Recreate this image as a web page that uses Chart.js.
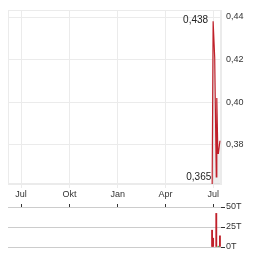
<!DOCTYPE html>
<html><head><meta charset="utf-8">
<script src="https://cdn.jsdelivr.net/npm/chart.js@4/dist/chart.umd.min.js"></script>
<style>
html,body{margin:0;padding:0;background:#fff;overflow:hidden}
#wrap{position:relative;width:264px;height:255px}
#c1{position:absolute;left:0;top:0}
#c2{position:absolute;left:0;top:200px}
</style></head><body>
<div id="wrap"><canvas id="c1" width="264" height="200"></canvas><canvas id="c2" width="264" height="55"></canvas></div>
<script>
// x values are days since 1 Jul 2023
const monthLabels = ['Jul','Okt','Jan','Apr','Jul'];
const monthDays = [0,92,184,275,366];
const priceDays = [364,366,369,372,373,375,376,379];
const prices = [0.355,0.438,0.421,0.365,0.402,0.376,0.376,0.382];
const priceTicks = [0.38,0.40,0.42,0.44];
const volumeDays = [364,366,372,376,379];
const volumes = [21000,11000,42000,1000,14000];
const volumeDir = ['down','down','down','up','down'];
const volumeTicks = [0,25000,50000];

const xMin = -25, xMax = 381;
Chart.defaults.font.family = "'Liberation Sans', Arial, sans-serif";
Chart.defaults.animation = false;

const frame = {id:'frame', beforeDatasetsDraw(c){const a=c.chartArea,ctx=c.ctx;ctx.save();ctx.strokeStyle='#ebebeb';ctx.lineWidth=1;ctx.strokeRect(Math.round(a.left)+0.5,Math.round(a.top)+0.5,Math.round(a.right-a.left)-1,Math.round(a.bottom-a.top)-1);ctx.restore();}};
const extremes = {id:'extremes', afterDatasetsDraw(c){
  const meta=c.getDatasetMeta(0), ctx=c.ctx;
  // first point is the previous close reference, extremes are over the session data
  let hi=1, lo=1;
  for(let i=1;i<prices.length;i++){ if(prices[i]>prices[hi]) hi=i; if(prices[i]<prices[lo]) lo=i; }
  ctx.save(); ctx.font="10px 'Liberation Sans', Arial, sans-serif"; ctx.fillStyle='#222'; ctx.textAlign='right'; ctx.textBaseline='middle';
  const ph=meta.data[hi], pl=meta.data[lo];
  ctx.fillText(prices[hi].toFixed(3).replace('.',','), ph.x-5, ph.y-1);
  ctx.fillText(prices[lo].toFixed(3).replace('.',','), pl.x-5, pl.y);
  ctx.restore();
}};

new Chart(document.getElementById('c1'), {
  type:'line',
  data:{datasets:[{data:priceDays.map((d,i)=>({x:d,y:prices[i]})), borderColor:'#c0202a', borderWidth:1.2, pointRadius:0, fill:'start', backgroundColor:'rgba(200,200,200,0.3)', tension:0}]},
  options:{responsive:false, animation:false, events:[],
    layout:{padding:{left:8,top:7,right:0,bottom:0}},
    plugins:{legend:{display:false}, tooltip:{enabled:false}},
    scales:{
      x:{type:'linear', min:xMin, max:xMax, offset:false,
        afterBuildTicks:s=>{s.ticks=monthDays.map(v=>({value:v}));},
        ticks:{callback:(v,i)=>monthLabels[i], color:'#333', font:{size:9}, padding:1, maxRotation:0, autoSkip:false},
        grid:{color:'#ebebeb', tickLength:4}, border:{color:'#ebebeb'},
        afterFit:s=>{s.height=16;}},
      y:{position:'right', min:0.3617, max:0.4431,
        afterBuildTicks:s=>{s.ticks=priceTicks.map(v=>({value:v}));},
        ticks:{callback:v=>v.toFixed(2).replace('.',','), color:'#333', font:{size:9}, padding:5},
        grid:{color:'#ebebeb', drawTicks:false}, border:{color:'#ebebeb'},
        afterFit:s=>{s.width=43;}}
    }
  },
  plugins:[frame, extremes]
});

new Chart(document.getElementById('c2'), {
  type:'bar',
  data:{datasets:[{data:volumeDays.map((d,i)=>({x:d,y:volumes[i]})), backgroundColor:volumeDir.map(d=>d==='up'?'#3a9a3a':'#c0202a'), barThickness:1.2}]},
  options:{responsive:false, animation:false, events:[],
    layout:{padding:{left:8,top:0,right:0,bottom:8}},
    plugins:{legend:{display:false}, tooltip:{enabled:false}},
    scales:{
      x:{type:'linear', position:'top', min:xMin, max:xMax, offset:false,
        afterBuildTicks:s=>{s.ticks=monthDays.map(v=>({value:v}));},
        ticks:{display:false},
        grid:{drawOnChartArea:false, tickLength:3, color:'#333', tickColor:'#333', offset:false}, border:{display:false},
        afterFit:s=>{s.height=7;}},
      y:{position:'right', min:0, max:50000,
        afterBuildTicks:s=>{s.ticks=volumeTicks.map(v=>({value:v}));},
        ticks:{callback:v=>(v/1000)+'T', color:'#333', font:{size:9}, padding:1},
        grid:{color:'#cccccc', tickColor:'#333', tickLength:4}, border:{display:false},
        afterFit:s=>{s.width=43;}}
    }
  }
});
</script>
</body></html>
